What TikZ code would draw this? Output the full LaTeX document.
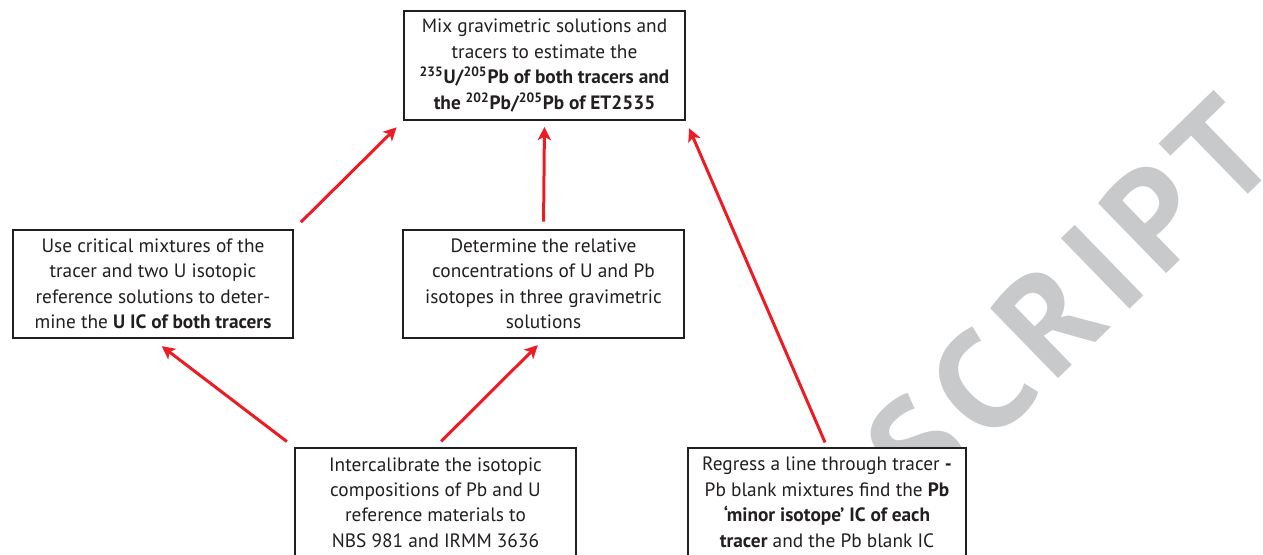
\documentclass[tikz,border=0pt]{standalone}
\usepackage{fontspec}
\setmainfont{PT Sans}
\newfontfamily\wmfont[LetterSpace=9]{PT Sans}
\usetikzlibrary{arrows.meta, positioning}
\definecolor{boxblack}{RGB}{35, 31, 32}
\definecolor{flowred}{RGB}{237, 28, 36}
\definecolor{wmgrey}{RGB}{200, 201, 203}

\tikzset{
  stepbox/.style={draw=boxblack, line width=0.04cm, fill=white, text=boxblack,
    align=center, inner sep=0pt, minimum width=5.62cm, minimum height=2.18cm,
    font=\fontsize{11}{14.5}\selectfont},
  flowarrow/.style={draw=flowred, line width=0.06cm,
    -{Stealth[length=7.5pt, width=7.5pt, inset=2pt]}}
}

\begin{document}
\begin{tikzpicture}[x=0.02cm, y=-0.02cm]
  \clip (0,0) rectangle (1263,554);

  % Watermark
  \node[rotate=44.2, text=wmgrey, font=\wmfont\bfseries\fontsize{80}{80}\selectfont] (wm) at (1070,299) {SCRIPT};

  % Top box
  \node[stepbox] (mix) at (544.5,65.5) {Mix gravimetric solutions and\\ tracers to estimate the\\
    \textbf{\textsuperscript{235}U/\textsuperscript{205}Pb of both tracers and}\\
    \textbf{the \textsuperscript{202}Pb/\textsuperscript{205}Pb of ET2535}};

  % Middle row
  \node[stepbox] (critical) at (153,284) {Use critical mixtures of the\\ tracer and two U isotopic\\
    reference solutions to deter-\\ mine the \textbf{U IC of both tracers}};
  \node[stepbox] (relconc) at (543.5,284) {Determine the relative\\ concentrations of U and Pb\\
    isotopes in three gravimetric\\ solutions};

  % Bottom row
  \node[stepbox, anchor=north] (intercal) at (435.5,447) {Intercalibrate the isotopic\\
    compositions of Pb and U\\ reference materials to\\ NBS 981 and IRMM 3636};
  \node[stepbox, anchor=north, minimum width=5.56cm] (regress) at (827,447) {Regress a line through tracer \textbf{-}\\
    Pb blank mixtures find the \textbf{Pb}\\ \textbf{‘minor isotope’ IC of each}\\
    \textbf{tracer} and the Pb blank IC};

  % Arrows
  \draw[flowarrow, shorten <=0.18cm, shorten >=0.18cm] (critical.north east) -- (mix.south west);
  \draw[flowarrow, shorten <=0.14cm, shorten >=0.12cm] (relconc.north) -- (mix.south);
  \draw[flowarrow, shorten <=0.1cm, shorten >=0.16cm] (regress.north) -- (mix.south east);
  \draw[flowarrow, shorten <=0.18cm, shorten >=0.22cm] (intercal.north west) -- (critical.south);
  \draw[flowarrow, shorten <=0.16cm, shorten >=0.16cm] (intercal.north) -- (relconc.south);
\end{tikzpicture}
\end{document}
